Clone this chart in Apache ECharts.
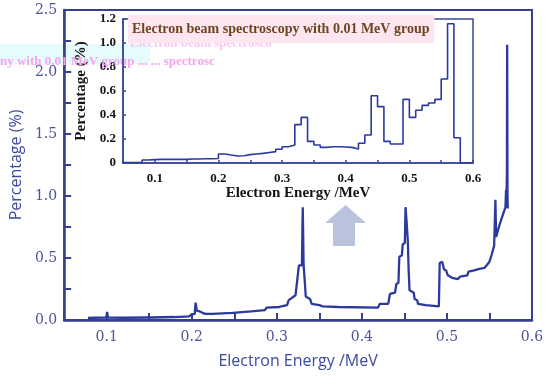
<!DOCTYPE html>
<html>
<head>
<meta charset="utf-8">
<script src="https://cdn.jsdelivr.net/npm/echarts@6/dist/echarts.min.js"></script>
<style>html,body{margin:0;padding:0;background:#fff}#c{width:550px;height:378px}</style>
</head>
<body>
<div id="c"></div>
<script>
// Main spectrum (energy MeV, percentage %)
const mainEnergy = [0.078,0.085,0.0995,0.1005,0.1015,0.12,0.148,0.15,0.152,0.18,0.197,0.2,0.2035,0.2045,0.206,0.209,0.212,0.216,0.224,0.226,0.248,0.25,0.27,0.272,0.286,0.288,0.303,0.305,0.312,0.314,0.322,0.326,0.3295,0.3305,0.3315,0.333,0.334,0.339,0.341,0.35,0.354,0.372,0.374,0.419,0.421,0.431,0.433,0.439,0.4405,0.443,0.444,0.447,0.448,0.4505,0.4513,0.4525,0.454,0.455,0.456,0.461,0.462,0.465,0.466,0.475,0.477,0.4905,0.4915,0.4945,0.4965,0.499,0.501,0.506,0.508,0.513,0.5156,0.524,0.5253,0.532,0.533,0.537,0.5387,0.544,0.5465,0.55,0.5523,0.5555,0.5565,0.557,0.5578,0.5619,0.5658,0.5688,0.5695,0.570,0.5705,0.5708,0.5712,0.5715];
const mainPercent = [0.016,0.018,0.02,0.065,0.02,0.018,0.02,0.03,0.02,0.024,0.03,0.045,0.05,0.14,0.075,0.07,0.06,0.05,0.05,0.058,0.058,0.068,0.07,0.078,0.08,0.1,0.105,0.115,0.12,0.16,0.2,0.44,0.44,0.91,0.44,0.3,0.19,0.17,0.13,0.12,0.11,0.105,0.10,0.10,0.13,0.13,0.21,0.22,0.29,0.3,0.51,0.52,0.61,0.62,0.91,0.8,0.64,0.4,0.24,0.22,0.17,0.16,0.13,0.12,0.112,0.11,0.46,0.47,0.41,0.4,0.36,0.34,0.33,0.33,0.35,0.36,0.39,0.4,0.41,0.41,0.40,0.42,0.44,0.47,0.52,0.6,0.61,0.97,0.67,0.77,0.85,0.91,1.05,0.95,1.2,2.22,1.0,0.9];

// Inset histogram, 0.01 MeV groups (bin start energy, percentage)
const binStart = [0.05,0.06,0.07,0.08,0.09,0.10,0.11,0.12,0.13,0.14,0.15,0.16,0.17,0.18,0.19,0.20,0.21,0.22,0.23,0.24,0.25,0.26,0.27,0.28,0.29,0.30,0.31,0.32,0.33,0.34,0.35,0.36,0.37,0.38,0.39,0.40,0.41,0.42,0.43,0.44,0.45,0.46,0.47,0.48,0.49,0.50,0.51,0.52,0.53,0.54,0.55,0.56,0.57,0.58,0.60];
const binPercent = [0.004,0.004,0.004,0.025,0.028,0.03,0.03,0.03,0.03,0.03,0.033,0.033,0.035,0.035,0.038,0.075,0.066,0.058,0.06,0.07,0.075,0.08,0.088,0.095,0.115,0.135,0.15,0.32,0.38,0.18,0.15,0.13,0.135,0.135,0.133,0.13,0.117,0.164,0.233,0.56,0.47,0.18,0.158,0.158,0.53,0.38,0.44,0.48,0.50,0.53,0.70,1.16,0.21,0,0];

const mainYTicks = ['0.0','0.5','1.0','1.5','2.0','2.5'];
const insetYTicks = ['0','0.2','0.4','0.6','0.8','1.0','1.2'];
const xTickLabels = ['0.1','0.2','0.3','0.4','0.5','0.6'];

const titleText = 'Electron beam spectroscopy with 0.01 MeV group';

const axisBlue = '#36408e';
const lineBlue = '#2c3a9c';
const labelBlue = '#4b5498';

// show a tick label only where the value is exactly one of the listed labels
function pick(list, v, step) {
  const k = v / step;
  if (Math.abs(k - Math.round(k)) > 1e-6) return '';
  for (const s of list) { if (Math.abs(parseFloat(s) - v) < 1e-6) return s; }
  return '';
}

const chart = echarts.init(document.getElementById('c'), null, {renderer: 'canvas'});
chart.setOption({
  animation: false,
  backgroundColor: '#fff',
  title: {
    text: titleText,
    left: 128, top: 15,
    padding: [7, 5, 7, 4],
    backgroundColor: '#fde6ef',
    textStyle: {fontFamily: 'Liberation Serif', fontWeight: 'bold', fontSize: 14, color: '#6e4620'}
  },
  grid: [
    {left: 57, right: 18, top: 10, bottom: 58, show: true, borderColor: axisBlue, borderWidth: 2, z: 0},
    {left: 123, right: 77, top: 19, bottom: 215, show: true, borderColor: '#3a4598', borderWidth: 1.5, backgroundColor: 'rgba(255,255,255,0)', z: 3}
  ],
  xAxis: [
    {
      gridIndex: 0, type: 'value', min: 0.05, max: 0.6, interval: 0.05,
      name: 'Electron Energy /MeV', nameLocation: 'middle', nameGap: 33,
      nameTextStyle: {fontFamily: 'Open Sans', fontSize: 16, color: '#3b4a9e'},
      axisLine: {lineStyle: {color: axisBlue, width: 2.5}},
      axisTick: {inside: true, length: 7, lineStyle: {color: axisBlue, width: 2}},
      splitLine: {show: false},
      axisLabel: {margin: 10, fontFamily: 'DejaVu Serif', fontSize: 14, color: labelBlue,
        formatter: v => pick(xTickLabels, v, 0.1)}
    },
    {
      gridIndex: 1, type: 'value', min: 0.05, max: 0.6, interval: 0.05,
      name: 'Electron Energy /MeV', nameLocation: 'middle', nameGap: 22,
      nameTextStyle: {fontFamily: 'Liberation Serif', fontWeight: 'bold', fontSize: 15, color: '#151515'},
      axisLine: {lineStyle: {color: '#3a4598', width: 1.5}},
      axisTick: {inside: true, length: 3, lineStyle: {color: '#3a4598', width: 1.5}},
      splitLine: {show: false},
      axisLabel: {margin: 9, fontFamily: 'Liberation Serif', fontWeight: 'bold', fontSize: 13, color: '#151515',
        formatter: v => pick(xTickLabels, v, 0.1)}
    }
  ],
  yAxis: [
    {
      gridIndex: 0, type: 'value', min: 0, max: 2.5, interval: 0.25,
      name: 'Percentage (%)', nameLocation: 'middle', nameGap: 35, nameRotate: 90,
      nameTextStyle: {fontFamily: 'Open Sans', fontSize: 16, color: '#3b4a9e'},
      axisLine: {show: true, lineStyle: {color: axisBlue, width: 2.5}},
      axisTick: {show: true, inside: true, length: 7, lineStyle: {color: axisBlue, width: 2}},
      splitLine: {show: false},
      axisLabel: {margin: 7, fontFamily: 'DejaVu Serif', fontSize: 14, color: labelBlue,
        formatter: v => pick(mainYTicks, v, 0.5)}
    },
    {
      gridIndex: 1, type: 'value', min: 0, max: 1.2, interval: 0.2,
      name: 'Percentage (%)', nameLocation: 'middle', nameGap: 30, nameRotate: 90,
      nameTextStyle: {fontFamily: 'Liberation Serif', fontWeight: 'bold', fontSize: 15, color: '#151515'},
      axisLine: {show: true, lineStyle: {color: '#3a4598', width: 1.5}},
      axisTick: {show: true, inside: true, length: 3, lineStyle: {color: '#3a4598', width: 1.5}},
      splitLine: {show: false},
      axisLabel: {margin: 7, fontFamily: 'Liberation Serif', fontWeight: 'bold', fontSize: 13, color: '#151515',
        formatter: v => pick(insetYTicks, v, 0.2)}
    }
  ],
  graphic: [
    {type: 'rect', z: -1, shape: {x: 0, y: 44, width: 150, height: 20}, style: {fill: '#e6fbfd'}},
    {type: 'text', z: 1, left: 0, top: 55, style: {text: 'ny with 0.01 MeV group ... ... spectrosc', font: 'bold 13px "Liberation Serif"', fill: '#f5a4ee'}},
    {type: 'text', z: 1, left: 130, top: 37, style: {text: 'Electron beam spectrosco', font: 'bold 13px "Liberation Serif"', fill: '#fbc6f4'}},
    {type: 'polygon', z: 5, shape: {points: [[325,223],[345.5,205],[366,223],[355,223],[355,246],[333,246],[333,223]]}, style: {fill: '#b9c3de'}}
  ],
  series: [
    {
      type: 'line', xAxisIndex: 0, yAxisIndex: 0, showSymbol: false, z: 2,
      lineStyle: {color: lineBlue, width: 2.3},
      data: mainEnergy.map((e, i) => [e, mainPercent[i]])
    },
    {
      type: 'line', xAxisIndex: 1, yAxisIndex: 1, showSymbol: false, step: 'end', z: 4,
      lineStyle: {color: lineBlue, width: 1.6},
      data: binStart.map((e, i) => [e, binPercent[i]])
    }
  ]
});
</script>
</body>
</html>
